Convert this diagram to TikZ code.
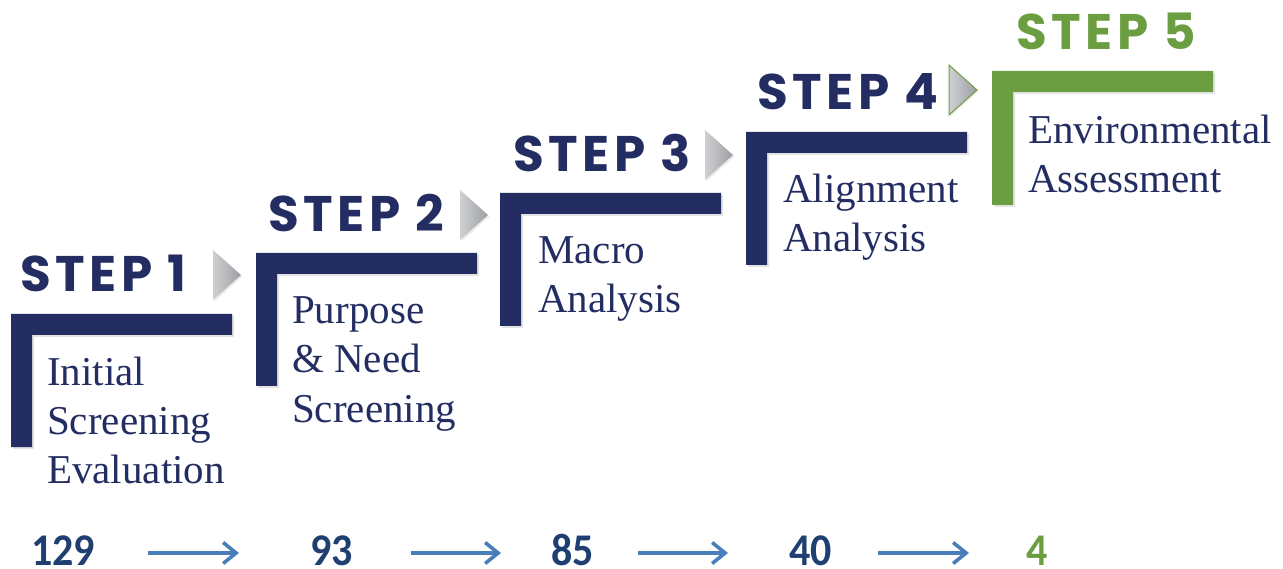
\documentclass[tikz,border=0pt]{standalone}
\usepackage{fontspec}
\setmainfont{Liberation Serif}
\newfontfamily\stepfont[LetterSpace=9]{Poppins}
\newfontfamily\numfont{Carlito}
\usetikzlibrary{arrows.meta,shadows}
\definecolor{navy}{HTML}{232D62}
\definecolor{stepgreen}{HTML}{6A9E40}
\definecolor{numnavy}{HTML}{1F3F70}
\definecolor{arrowblue}{HTML}{4A7EBB}
\definecolor{trilight}{HTML}{CFD0D2}
\definecolor{tridark}{HTML}{9C9EA2}
\tikzset{
  bracket/.style={fill=#1, draw=none, drop shadow={opacity=0.22, shadow xshift=2pt, shadow yshift=-2pt}},
  steplabel/.style={anchor=base west, inner sep=0pt, text=#1, font=\stepfont\bfseries\fontsize{50}{60}\selectfont},
  desc/.style={anchor=base west, inner sep=0pt, text=navy, font=\fontsize{41}{49}\selectfont},
  num/.style={anchor=base west, inner sep=0pt, text depth=0pt, yscale=1.08, text=#1, font=\numfont\bfseries\fontsize{42}{50}\selectfont},
  tri/.style={left color=trilight, right color=tridark, draw=#1, line width=1pt, drop shadow={opacity=0.15, shadow xshift=1.5pt, shadow yshift=-1.5pt}},
  flow/.style={draw=arrowblue, line width=4pt, -{Straight Barb[length=13pt,width=21pt,line width=3.6pt]}}
}
\begin{document}
\begin{tikzpicture}[x=1pt,y=-1pt]
\useasboundingbox (0,0) rectangle (1283,569);
% brackets
\foreach \x/\yt/\yb/\c in {11/314/447/navy, 256/253/386/navy, 500/193/326/navy, 746/132/265/navy, 992/71/205/stepgreen}{
  \path[bracket=\c] (\x,\yt) -- (\x+221,\yt) -- (\x+221,\yt+21) -- (\x+21,\yt+21) -- (\x+21,\yb) -- (\x,\yb) -- cycle;
}
% triangles
\path[tri=none] (213,250) -- (241,275) -- (213,300) -- cycle;
\path[tri=none] (460,190) -- (488,215) -- (460,240) -- cycle;
\path[tri=none] (705,130) -- (733,155) -- (705,180) -- cycle;
\path[tri=stepgreen] (949,65) -- (977,90) -- (949,115) -- cycle;
% step labels
\node[steplabel=navy] (st1) at (20,292) {STEP 1};
\node[steplabel=navy] (st2) at (268,232) {STEP 2};
\node[steplabel=navy] (st3) at (513,172) {STEP 3};
\node[steplabel=navy] (st4) at (757,110) {STEP 4};
\node[steplabel=stepgreen] (st5) at (1016,50) {STEP 5};
% descriptions
\node[desc] (d1a) at (47,385) {Initial};
\node[desc] (d1b) at (47,434) {Screening};
\node[desc] (d1c) at (47,483) {Evaluation};
\node[desc] (d2a) at (292,324) {Purpose};
\node[desc] (d2b) at (292,373) {\& Need};
\node[desc] (d2c) at (292,422) {Screening};
\node[desc] (d3a) at (538,264) {Macro};
\node[desc] (d3b) at (538,313) {Analysis};
\node[desc] (d4a) at (783,203) {Alignment};
\node[desc] (d4b) at (783,252) {Analysis};
\node[desc] (d5a) at (1028,144) {Environmental};
\node[desc] (d5b) at (1028,193) {Assessment};
% numbers
\node[num=numnavy] (n1) at (31,565) {129};
\node[num=numnavy] (n2) at (310,565) {93};
\node[num=numnavy] (n3) at (551,565) {85};
\node[num=numnavy] (n4) at (789,565) {40};
\node[num=stepgreen] (n5) at (1026,565) {4};
% arrows
\coordinate (a1s) at (148,553); \coordinate (a1e) at (239,553);
\coordinate (a2s) at (411,553); \coordinate (a2e) at (501,553);
\coordinate (a3s) at (638,553); \coordinate (a3e) at (728,553);
\coordinate (a4s) at (878,553); \coordinate (a4e) at (969,553);
\draw[flow] (a1s) -- (a1e);
\draw[flow] (a2s) -- (a2e);
\draw[flow] (a3s) -- (a3e);
\draw[flow] (a4s) -- (a4e);
\end{tikzpicture}
\end{document}
